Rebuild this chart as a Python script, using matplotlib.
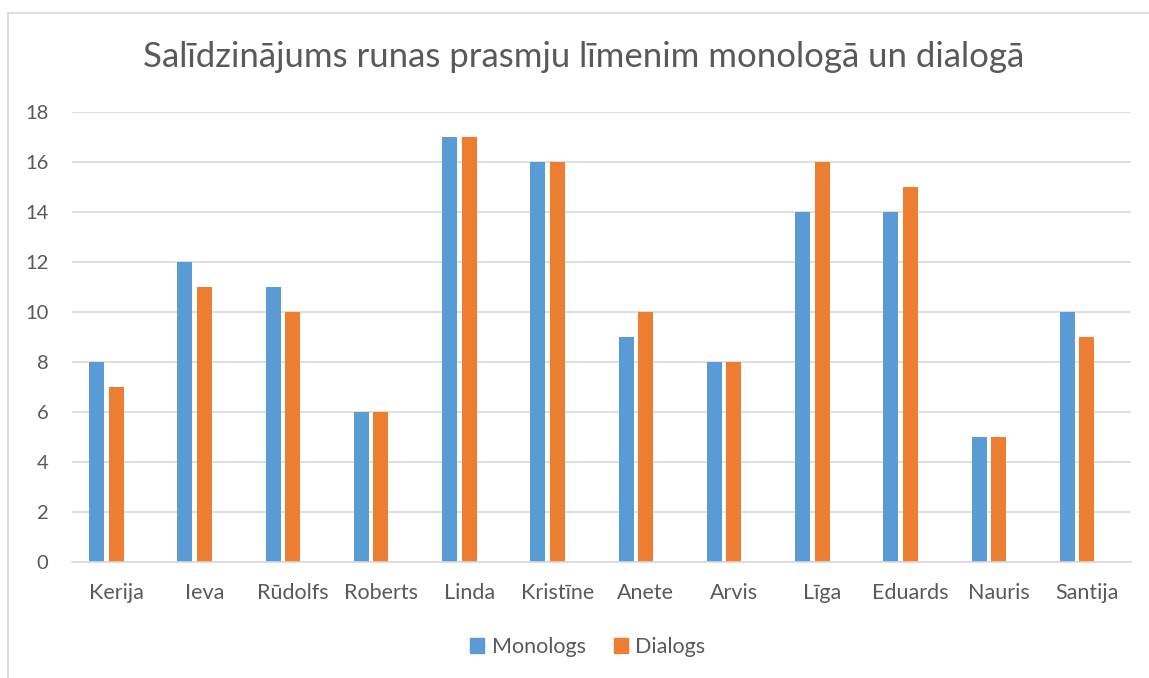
import matplotlib
matplotlib.use("Agg")
import matplotlib.pyplot as plt
from matplotlib.lines import Line2D
from matplotlib.patches import Rectangle
import numpy as np

categories = ["Kerija", "Ieva", "Rūdolfs", "Roberts", "Linda", "Kristīne",
              "Anete", "Arvis", "Līga", "Eduards", "Nauris", "Santija"]
monologs = [8, 12, 11, 6, 17, 16, 9, 8, 14, 14, 5, 10]
dialogs = [7, 11, 10, 6, 17, 16, 10, 8, 16, 15, 5, 9]
yticks = [0, 2, 4, 6, 8, 10, 12, 14, 16, 18]
title = "Salīdzinājums runas prasmju līmenim monologā un dialogā"

plt.rcParams['font.family'] = ['Lato', 'DejaVu Sans']
W, H = 1149, 678
fig = plt.figure(figsize=(W / 100, H / 100), dpi=100)
fig.patch.set_facecolor("white")

# chart frame (partially cropped in reference)
fig.add_artist(Line2D([8 / W, 8 / W], [0, 1 - 13 / H], color="#d9d9d9", lw=1.3,
                      transform=fig.transFigure))
fig.add_artist(Line2D([8 / W, 1], [1 - 13 / H, 1 - 13 / H], color="#d9d9d9", lw=1.3,
                      transform=fig.transFigure))

ax = fig.add_axes([72 / W, 1 - 562 / H, (1131 - 72) / W, (562 - 112) / H])
x = np.arange(len(categories))
bw = 0.172
ax.bar(x - 0.221, monologs, width=bw, color="#5B9BD5", zorder=3, label="Monologs")
ax.bar(x, dialogs, width=bw, color="#ED7D31", zorder=3, label="Dialogs")

ax.set_xlim(-0.5, len(categories) - 0.5)
ax.set_ylim(0, 18)
ax.set_yticks(yticks)
ax.set_xticks(x)
ax.set_xticklabels(categories)
ax.grid(axis="y", color="#d9d9d9", lw=1.2, zorder=0)
for s in ["top", "right", "left"]:
    ax.spines[s].set_visible(False)
ax.spines["bottom"].set_color("#d9d9d9")
ax.spines["bottom"].set_linewidth(1.2)
ax.spines["bottom"].set_zorder(4)
ax.tick_params(axis="both", length=0, colors="#595959")
ax.tick_params(axis="x", labelsize=15.5, pad=15)
ax.tick_params(axis="y", labelsize=14.5, pad=17)

fig.text(584 / W, 1 - 57 / H, title, ha="center", va="center", fontsize=25,
         color="#595959")

leg = fig.legend(handles=[Rectangle((0, 0), 1, 1, color="#5B9BD5"),
                          Rectangle((0, 0), 1, 1, color="#ED7D31")],
                 labels=["Monologs", "Dialogs"], loc="center",
                 bbox_to_anchor=(588 / W, 1 - 647 / H), ncol=2, frameon=False,
                 fontsize=15.5, handlelength=0.65, handleheight=0.65,
                 handletextpad=0.35, columnspacing=1.3, labelcolor="#595959")

fig.savefig("out.png", dpi=100, facecolor="white")
